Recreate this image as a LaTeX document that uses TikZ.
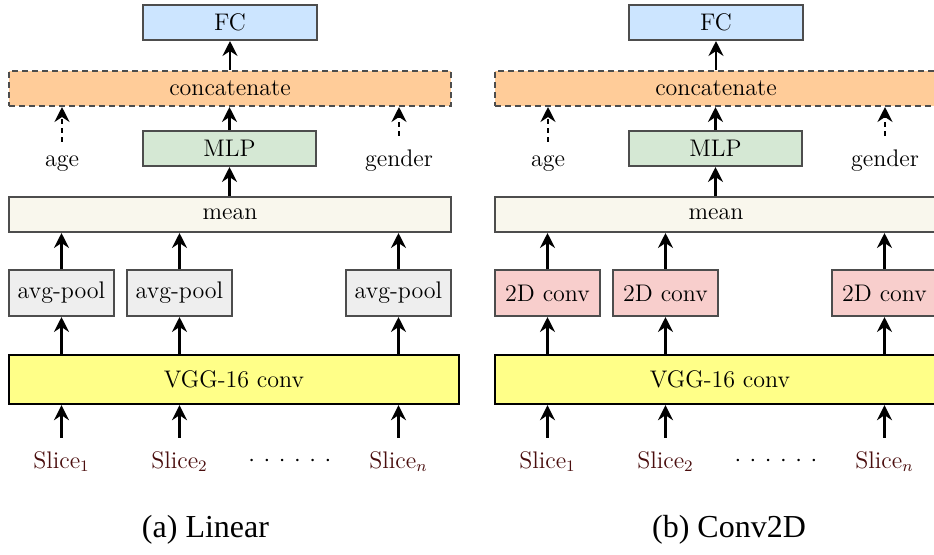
\documentclass[tikz,border=0pt]{standalone}
\usepackage{amsmath, amssymb}
\usepackage{fontspec}
\newfontfamily\capfont{Liberation Serif}
\usepackage{tikz}
\usetikzlibrary{arrows.meta}

\definecolor{fcblue}{HTML}{CCE5FF}
\definecolor{catorange}{HTML}{FFCC99}
\definecolor{mlpgreen}{HTML}{D5E8D4}
\definecolor{meanbeige}{HTML}{F9F7ED}
\definecolor{poolgray}{HTML}{EEEEEE}
\definecolor{convpink}{HTML}{F8CECC}
\definecolor{vggyellow}{HTML}{FFFF88}
\definecolor{slicered}{HTML}{4A0E0E}
\definecolor{boxline}{HTML}{4D4D4D}

\begin{document}
\begin{tikzpicture}[x=0.5pt, y=-0.5pt,
  every node/.style={font=\fontsize{12}{14}\selectfont},
  box/.style={draw=boxline, line width=1pt, inner sep=0pt, minimum height=17.5pt},
  arr/.style={-{Stealth[length=7.5pt,width=7.5pt,inset=2.5pt]}, line width=1.1pt},
  lbl/.style={anchor=base, inner xsep=1pt, inner ysep=6.5pt}]
\useasboundingbox (0,0) rectangle (934,554);
\foreach \p/\dx/\blk/\blkfill in {a/0/avg-pool/poolgray, b/486/2D conv/convpink} {
  \begin{scope}[shift={(\dx,0)}]
  \node[box, fill=fcblue, minimum width=87pt] (fc-\p) at (230,22.5) {FC};
  \node[box, fill=catorange, dash pattern=on 3pt off 2pt, minimum width=221pt] (cat-\p) at (230,88.5) {concatenate};
  \node[box, fill=mlpgreen, minimum width=86.5pt] (mlp-\p) at (229.5,148.5) {MLP};
  \node[box, fill=meanbeige, minimum width=221pt] (mean-\p) at (230,214.5) {mean};
  \node[box, draw=black, line width=1.2pt, fill=vggyellow, minimum width=225pt, minimum height=24.5pt] (vgg-\p) at (234,379.5) {VGG-16 conv};
  \node[lbl] (age-\p) at (62,166) {age};
  \node[lbl] (gender-\p) at (399,166) {gender};
  \node (dots-\p) at (290,461) {${\cdot}\hspace{4.3pt}{\cdot}\hspace{4.3pt}{\cdot}\hspace{4.3pt}{\cdot}\hspace{4.3pt}{\cdot}\hspace{4.3pt}{\cdot}$};
  \foreach \i/\bx/\sub in {1/61.5/1, 2/179.5/2, 3/398.5/n} {
    \node[box, fill=\blkfill, minimum width=52.5pt, minimum height=23pt] (pool-\p-\i) at (\bx,293) {\blk};
    \node[lbl, text=slicered] (slice-\p-\i) at (\bx,468) {Slice$_\sub$};
    \draw[arr] (slice-\p-\i.north) -- (slice-\p-\i.north |- vgg-\p.south);
    \draw[arr] (vgg-\p.north -| pool-\p-\i) -- (pool-\p-\i.south);
    \draw[arr] (pool-\p-\i.north) -- (pool-\p-\i.north |- mean-\p.south);
  }
  \draw[arr] (mean-\p.north -| mlp-\p) -- (mlp-\p.south);
  \draw[arr] (mlp-\p.north) -- (cat-\p.south -| mlp-\p);
  \draw[arr] (cat-\p.north -| fc-\p) -- (fc-\p.south);
  \draw[arr, dash pattern=on 2.5pt off 2pt] (age-\p.north) -- (age-\p.north |- cat-\p.south);
  \draw[arr, dash pattern=on 2.5pt off 2pt] (gender-\p.north) -- (gender-\p.north |- cat-\p.south);
  \end{scope}
}
\node[font=\capfont\fontsize{16}{19}\selectfont] (cap-a) at (205.5,530) {(a) Linear};
\node[font=\capfont\fontsize{16}{19}\selectfont] (cap-b) at (729,530) {(b) Conv2D};
\end{tikzpicture}
\end{document}
